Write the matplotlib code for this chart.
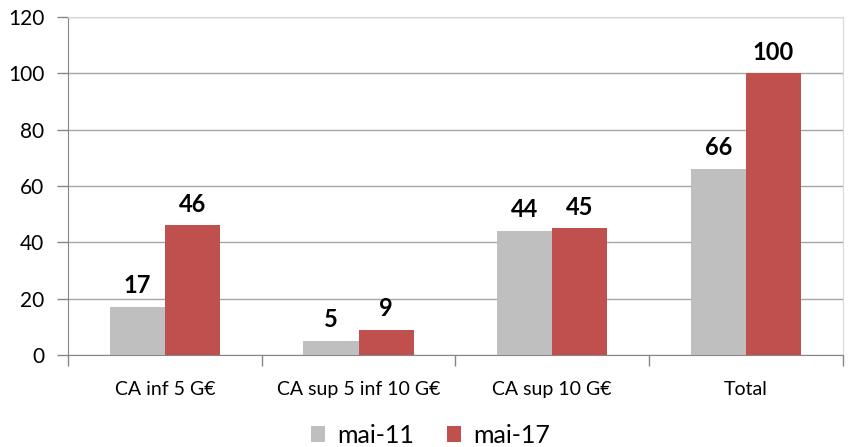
import matplotlib
matplotlib.use("Agg")
import matplotlib.pyplot as plt
import numpy as np

plt.rcParams['font.family'] = ['Lato', 'DejaVu Sans']

categories = ['CA inf 5 G€', 'CA sup 5 inf 10 G€', 'CA sup 10 G€', 'Total']
mai_11 = [17, 5, 44, 66]
mai_17 = [46, 9, 45, 100]

fig = plt.figure(figsize=(8.53, 4.47), dpi=100)
ax = fig.add_axes([0.0797, 0.2058, 0.9083, 0.7562])

x = np.arange(len(categories))
w = 0.285
b1 = ax.bar(x - w / 2, mai_11, w, color='#BFBFBF', label='mai-11', zorder=3)
b2 = ax.bar(x + w / 2, mai_17, w, color='#C0504D', label='mai-17', zorder=3)

for bars, vals in ((b1, mai_11), (b2, mai_17)):
    for r, v in zip(bars, vals):
        ax.annotate(str(v), (r.get_x() + r.get_width() / 2, v), xytext=(0, 7),
                    textcoords='offset points', ha='center', va='bottom',
                    fontsize=17, fontweight='bold', color='black')

ax.set_xlim(-0.5, len(categories) - 0.5)
ax.set_ylim(0, 120)
ax.set_yticks(range(0, 121, 20))
ax.yaxis.grid(True, color='#A6A6A6', linewidth=1, zorder=0)
ax.set_axisbelow(True)

ax.set_xticks(x)
ax.set_xticklabels(categories, fontsize=14)
ax.tick_params(axis='x', length=0, pad=19)
ax.set_xticks(np.arange(-0.5, len(categories), 1), minor=True)
ax.tick_params(axis='x', which='minor', length=8, color='#868686', width=1)
ax.tick_params(axis='y', length=8, color='#868686', width=1, labelsize=15, pad=9)

for s in ('left', 'bottom'):
    ax.spines[s].set_color('#868686')
for s in ('top', 'right'):
    ax.spines[s].set_color('#D9D9D9')

fig.legend(loc='lower center', bbox_to_anchor=(0.505, -0.05), ncol=2, frameon=False,
           fontsize=18, handlelength=0.55, handleheight=0.55, handletextpad=0.5,
           columnspacing=1.3)

fig.savefig('out.png', dpi=100)
